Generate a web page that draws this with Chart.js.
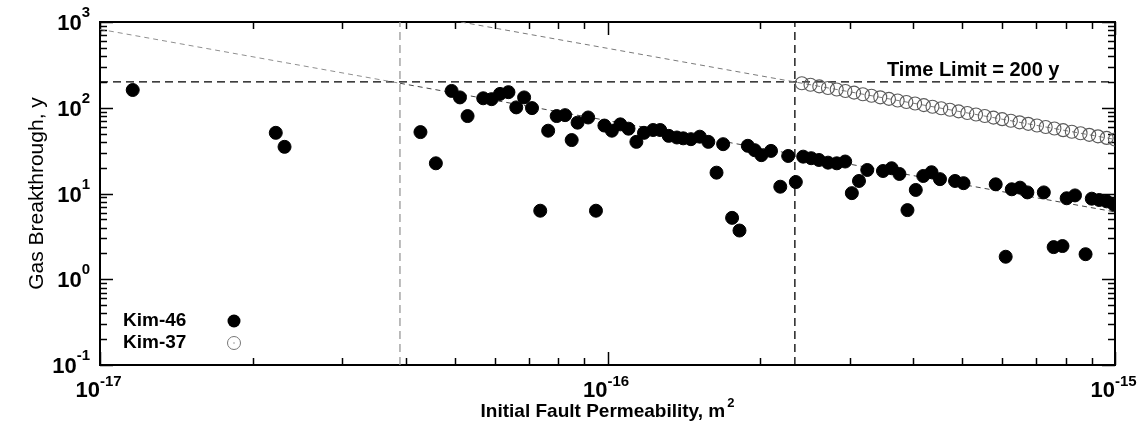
<!DOCTYPE html>
<html>
<head>
<meta charset="utf-8">
<script src="https://cdn.jsdelivr.net/npm/chart.js@4.4.0/dist/chart.umd.min.js"></script>
<style>
  body { margin: 0; background: #fff; }
  #wrap { width: 1140px; height: 433px; }
</style>
</head>
<body>
<div id="wrap"><canvas id="chart"></canvas></div>
<script>
// Kim-46 realizations (filled circles)
const kim46X = [
    1.16e-17, 2.22e-17, 2.31e-17, 4.28e-17, 4.59e-17, 4.93e-17, 5.12e-17, 5.30e-17, 5.69e-17, 5.91e-17,
    6.14e-17, 6.38e-17, 6.61e-17, 6.85e-17, 7.10e-17, 7.37e-17, 7.64e-17, 7.94e-17, 8.25e-17, 8.50e-17,
    8.73e-17, 9.16e-17, 9.49e-17, 9.86e-17, 1.02e-16, 1.06e-16, 1.10e-16, 1.14e-16, 1.18e-16, 1.23e-16,
    1.27e-16, 1.32e-16, 1.37e-16, 1.41e-16, 1.46e-16, 1.52e-16, 1.58e-16, 1.64e-16, 1.69e-16, 1.76e-16,
    1.82e-16, 1.89e-16, 1.95e-16, 2.01e-16, 2.10e-16, 2.19e-16, 2.27e-16, 2.35e-16, 2.43e-16, 2.52e-16,
    2.61e-16, 2.72e-16, 2.83e-16, 2.94e-16, 3.03e-16, 3.13e-16, 3.25e-16, 3.49e-16, 3.63e-16, 3.76e-16,
    3.90e-16, 4.05e-16, 4.19e-16, 4.35e-16, 4.52e-16, 4.84e-16, 5.03e-16, 5.82e-16, 6.09e-16, 6.26e-16,
    6.50e-16, 6.72e-16, 7.24e-16, 7.57e-16, 7.88e-16, 8.03e-16, 8.34e-16, 8.75e-16, 9.00e-16, 9.31e-16,
    9.63e-16, 9.96e-16
];
const kim46Y = [
    161, 51, 35, 52, 22.5, 157, 132, 80, 129, 126,
    145, 152, 101, 132, 99, 6.3, 54, 80, 82, 42,
    67, 77, 6.3, 62, 54, 64, 57, 40, 51, 55,
    55, 47, 45, 44, 43, 46, 40, 17.5, 37.6, 5.2,
    3.7, 36, 32, 28, 31.4, 12, 27.4, 13.6, 26.9, 25.8,
    24.6, 22.9, 22.5, 23.6, 10.1, 14.0, 18.8, 18.3, 19.7, 16.9,
    6.4, 11.0, 16.0, 17.7, 14.7, 14.0, 13.2, 12.8, 1.83, 11.2,
    11.7, 10.3, 10.3, 2.37, 2.44, 8.8, 9.5, 1.96, 8.7, 8.4,
    8.1, 7.4
];

// Kim-37 realizations (open circles)
const kim37X = [
    2.415e-16, 2.512e-16, 2.614e-16, 2.719e-16, 2.829e-16, 2.943e-16, 3.061e-16, 3.185e-16, 3.313e-16, 3.447e-16,
    3.586e-16, 3.730e-16, 3.881e-16, 4.037e-16, 4.200e-16, 4.369e-16, 4.545e-16, 4.728e-16, 4.919e-16, 5.117e-16,
    5.323e-16, 5.538e-16, 5.761e-16, 5.993e-16, 6.235e-16, 6.486e-16, 6.747e-16, 7.019e-16, 7.302e-16, 7.597e-16,
    7.903e-16, 8.221e-16, 8.553e-16, 8.897e-16, 9.256e-16, 9.629e-16, 1.0e-15
];
const kim37Y = [
    193, 185.1, 177.5, 170.2, 163.2, 156.5, 150.1, 143.9, 138.0, 132.3,
    126.9, 121.7, 116.7, 111.9, 107.3, 102.9, 98.7, 94.6, 90.7, 87.0,
    83.4, 80.0, 76.7, 73.6, 70.5, 67.6, 64.9, 62.2, 59.6, 57.2,
    54.8, 52.6, 50.4, 48.3, 46.4, 44.5, 42.6
];

// reference lines
const timeLimit = 200;
const cutoffLowK = 3.9e-17;
const cutoffHighK = 2.34e-16;
const trendLowX = [1e-17, 3.9e-17, 1e-15];
const trendLowY = [822, 193, 6.1];
const trendHighX = [5.14e-17, 1e-15];
const trendHighY = [1000, 42.7];

// axes
const xMin = 1e-17, xMax = 1e-15;
const yMin = 0.1, yMax = 1000;
const xTickPowers = [-17, -16, -15];
const yTickPowers = [-1, 0, 1, 2, 3];

const FONT = '"Liberation Sans", Arial, sans-serif';

const toXY = (xs, ys) => xs.map((x, i) => ({ x: x, y: ys[i] }));

function line(ctx, x1, y1, x2, y2) {
    ctx.beginPath();
    ctx.moveTo(x1, y1);
    ctx.lineTo(x2, y2);
    ctx.stroke();
}

// "10" with a raised exponent
function drawPower(ctx, xTen, yBase, supBase, exp, big, small) {
    ctx.font = 'bold ' + big + 'px ' + FONT;
    ctx.textAlign = 'right';
    ctx.textBaseline = 'alphabetic';
    ctx.fillText('10', xTen, yBase);
    ctx.font = 'bold ' + small + 'px ' + FONT;
    ctx.textAlign = 'left';
    ctx.fillText(String(exp), xTen, supBase);
}

const framePlugin = {
    id: 'framePlugin',
    beforeDatasetsDraw(chart) {
        const ctx = chart.ctx;
        const xs = chart.scales.x, ys = chart.scales.y;
        const { left, right, top, bottom } = chart.chartArea;
        ctx.save();
        ctx.strokeStyle = '#000';
        ctx.lineWidth = 1.5;
        ctx.setLineDash([]);
        // inward ticks on all four sides
        for (let e = -17; e <= -15; e++) {
            for (let m = 1; m <= 9; m++) {
                const v = m * Math.pow(10, e);
                if (v > xMax * 1.0001) break;
                const px = Math.round(xs.getPixelForValue(v)) + 0.5;
                const len = m === 1 ? 13 : 7;
                line(ctx, px, bottom, px, bottom - len);
                line(ctx, px, top, px, top + len);
            }
        }
        for (let e = -1; e <= 3; e++) {
            for (let m = 1; m <= 9; m++) {
                const v = m * Math.pow(10, e);
                if (v > yMax * 1.0001) break;
                const py = Math.round(ys.getPixelForValue(v)) + 0.5;
                const len = m === 1 ? 13 : 7;
                line(ctx, left, py, left + len, py);
                line(ctx, right, py, right - len, py);
            }
        }
        ctx.lineWidth = 2;
        ctx.strokeRect(left, top, right - left, bottom - top);
        ctx.restore();
    },
    afterDraw(chart) {
        const ctx = chart.ctx;
        const xs = chart.scales.x, ys = chart.scales.y;
        const { left, right, top, bottom } = chart.chartArea;
        ctx.save();
        ctx.fillStyle = '#000';

        // y tick labels
        yTickPowers.forEach(p => {
            const py = ys.getPixelForValue(Math.pow(10, p));
            ctx.font = 'bold 15px ' + FONT;
            const supW = ctx.measureText(String(p)).width;
            drawPower(ctx, 90 - supW, py + 8, py - 5, p, 22, 15);
        });

        // x tick labels
        xTickPowers.forEach(p => {
            const px = xs.getPixelForValue(Math.pow(10, p));
            drawPower(ctx, px, 397, 386, p, 22, 15);
        });

        // axis titles
        ctx.font = '21px ' + FONT;
        ctx.textAlign = 'center';
        ctx.textBaseline = 'middle';
        ctx.save();
        ctx.translate(37, (top + bottom) / 2);
        ctx.rotate(-Math.PI / 2);
        ctx.fillText('Gas Breakthrough, y', 0, 0);
        ctx.restore();

        const xTitle = 'Initial Fault Permeability, m';
        ctx.font = 'bold 19px ' + FONT;
        ctx.textBaseline = 'alphabetic';
        const wMain = ctx.measureText(xTitle).width;
        ctx.font = 'bold 13px ' + FONT;
        const wSup = ctx.measureText('2').width;
        const startX = (left + right) / 2 - (wMain + wSup + 2) / 2;
        ctx.textAlign = 'left';
        ctx.font = 'bold 19px ' + FONT;
        ctx.fillText(xTitle, startX, 417);
        ctx.font = 'bold 13px ' + FONT;
        ctx.fillText('2', startX + wMain + 2, 407);

        // time limit label
        ctx.font = 'bold 20px ' + FONT;
        ctx.fillText('Time Limit = 200 y', 887, 76);

        // legend
        ctx.font = 'bold 19px ' + FONT;
        ctx.textBaseline = 'middle';
        ctx.fillText('Kim-46', 123, 321);
        ctx.fillText('Kim-37', 123, 343);
        ctx.beginPath();
        ctx.arc(234, 321, 6.5, 0, Math.PI * 2);
        ctx.fill();
        ctx.strokeStyle = '#777';
        ctx.lineWidth = 1;
        ctx.beginPath();
        ctx.arc(234, 343, 6.5, 0, Math.PI * 2);
        ctx.stroke();
        ctx.fillStyle = '#444';
        ctx.fillRect(233.5, 342.5, 1, 1);
        ctx.restore();
    }
};

const dashLine = (label, xs, ys, color, dash, width) => ({
    label: label,
    data: toXY(xs, ys),
    showLine: true,
    borderColor: color,
    borderWidth: width || 1,
    borderDash: dash,
    pointRadius: 0,
    fill: false,
    order: 5
});

const ctx = document.getElementById('chart').getContext('2d');
window.gasChart = new Chart(ctx, {
    type: 'scatter',
    data: {
        datasets: [{
            label: 'Kim-46',
            data: toXY(kim46X, kim46Y),
            backgroundColor: '#000',
            borderColor: '#000',
            pointRadius: 6.5,
            pointHoverRadius: 6.5,
            order: 1
        }, {
            label: 'Kim-37',
            data: toXY(kim37X, kim37Y),
            backgroundColor: 'rgba(0,0,0,0)',
            borderColor: '#5a5a5a',
            borderWidth: 1.1,
            pointRadius: 6.5,
            order: 2
        }, {
            label: 'Kim-37 centre',
            data: toXY(kim37X, kim37Y),
            backgroundColor: '#222',
            borderColor: '#222',
            borderWidth: 0,
            pointStyle: 'cross',
            pointRadius: 2,
            order: 2
        },
        dashLine('trend low left', trendLowX.slice(0, 2), trendLowY.slice(0, 2), '#8f8f8f', [5, 4]),
        dashLine('trend low right', trendLowX.slice(1), trendLowY.slice(1), '#444', [5, 4]),
        dashLine('trend high', trendHighX, trendHighY, '#7a7a7a', [5, 4]),
        dashLine('time limit', [xMin, xMax], [timeLimit, timeLimit], '#000', [8, 5], 1.3),
        dashLine('cutoff low', [cutoffLowK, cutoffLowK], [yMin, yMax], '#999', [8, 5], 1.3),
        dashLine('cutoff high', [cutoffHighK, cutoffHighK], [yMin, yMax], '#000', [8, 5], 1.3)
        ]
    },
    options: {
        responsive: true,
        maintainAspectRatio: false,
        animation: false,
        layout: { padding: { left: 100, right: 25, top: 22, bottom: 68 } },
        plugins: {
            legend: { display: false },
            tooltip: { enabled: false }
        },
        scales: {
            x: { type: 'logarithmic', min: xMin, max: xMax, display: false },
            y: { type: 'logarithmic', min: yMin, max: yMax, display: false }
        }
    },
    plugins: [framePlugin]
});
</script>
</body>
</html>
